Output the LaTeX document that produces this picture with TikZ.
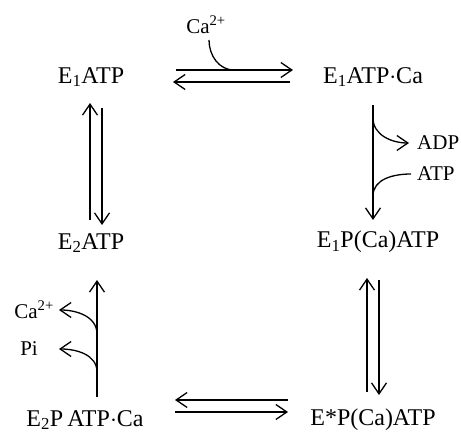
\documentclass[tikz,border=0pt]{standalone}
\usepackage{fontspec}
\setmainfont{Liberation Serif}
\usetikzlibrary{arrows.meta}
\begin{document}
\begin{tikzpicture}[x=1pt,y=1pt,
  species/.style={inner sep=0pt,font=\fontsize{24}{28}\selectfont},
  ligand/.style={inner sep=0pt,font=\fontsize{21}{25}\selectfont},
  tip/.tip={Straight Barb[length=11pt,width=15pt,line width=1.3pt]},
  rxn/.style={line width=1.3pt,-tip},
  branch/.style={line width=1.3pt}]
\useasboundingbox (0,0) rectangle (461,436);

% enzyme states
\node[species] (e1atp)   at (91,359)  {E\textsubscript{1}ATP};
\node[species] (e1atpca) at (373,359) {E\textsubscript{1}ATP$\cdot$Ca};
\node[species] (e2atp)   at (91,193)  {E\textsubscript{2}ATP};
\node[species] (e1pca)   at (378,194) {E\textsubscript{1}P(Ca)ATP};
\node[species] (e2patp)  at (85,16)   {E\textsubscript{2}P\,ATP$\cdot$Ca};
\node[species] (estar)   at (373,16)  {E*P(Ca)ATP};

% ligands
\node[ligand] (ca1) at (206,411) {Ca\textsuperscript{2+}};
\node[ligand,anchor=west] (adp) at (417,293) {ADP};
\node[ligand,anchor=west] (atp) at (417,262) {ATP};
\node[ligand,anchor=east] (ca2) at (54,126) {Ca\textsuperscript{2+}};
\node[ligand,anchor=east] (pi)  at (38,87)  {Pi};

% end points of the reaction arrows
\coordinate (t1) at (176,366); \coordinate (t2) at (293,366);
\coordinate (t3) at (290,354); \coordinate (t4) at (173,354);
\coordinate (l1) at (90,216);  \coordinate (l2) at (90,333);
\coordinate (l3) at (102,328); \coordinate (l4) at (102,211);
\coordinate (r1) at (373,331); \coordinate (r2) at (373,216);
\coordinate (m1) at (367,44);  \coordinate (m2) at (367,158);
\coordinate (m3) at (379,156); \coordinate (m4) at (379,41);
\coordinate (v1) at (97,39);   \coordinate (v2) at (97,156);
\coordinate (b1) at (288,36);  \coordinate (b2) at (175,36);
\coordinate (b3) at (175,24);  \coordinate (b4) at (288,24);

% E1ATP <-> E1ATP.Ca with Ca2+ binding
\draw[rxn] (t1) -- (t2);
\draw[rxn] (t3) -- (t4);
\draw[branch] (209,396) to[out=-90,in=180] (234,366);

% E1ATP <-> E2ATP
\draw[rxn] (l1) -- (l2);
\draw[rxn] (l3) -- (l4);

% E1ATP.Ca -> E1P(Ca)ATP, ADP out, ATP in
\draw[rxn] (r1) -- (r2);
\draw[rxn] (373,318) to[out=-90,in=180] ([xshift=-8pt]adp.west);
\draw[branch] ([xshift=-6pt]atp.west) to[out=180,in=90] (373,240);

% E1P(Ca)ATP <-> E*P(Ca)ATP
\draw[rxn] (m1) -- (m2);
\draw[rxn] (m3) -- (m4);

% E*P(Ca)ATP <-> E2P ATP.Ca
\draw[rxn] (b1) -- (b2);
\draw[rxn] (b3) -- (b4);

% E2P ATP.Ca -> E2ATP, Ca2+ and Pi released
\draw[rxn] (v1) -- (v2);
\draw[rxn] (97,102) to[out=90,in=0] ([xshift=5pt]ca2.east);
\draw[rxn] (97,64) to[out=90,in=0] ([xshift=21pt]pi.east);
\end{tikzpicture}
\end{document}
